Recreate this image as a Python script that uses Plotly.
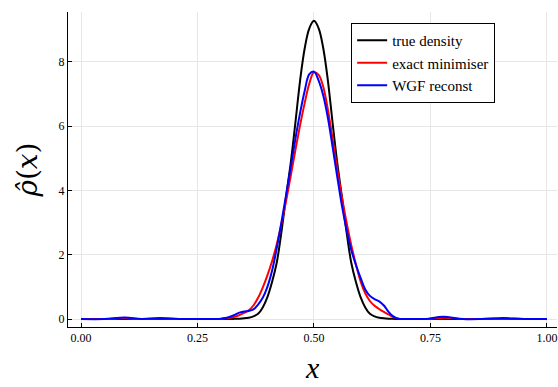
import plotly.graph_objects as go

# ---- data ----
x_true = [0.0, 0.1, 0.2, 0.30, 0.32, 0.33, 0.34, 0.35, 0.36, 0.37, 0.38, 0.39, 0.40, 0.41, 0.42, 0.43, 0.44,
          0.45, 0.46, 0.47, 0.48, 0.49, 0.50, 0.51, 0.52, 0.53, 0.54, 0.55, 0.56, 0.57, 0.58,
          0.59, 0.60, 0.61, 0.62, 0.63, 0.64, 0.65, 0.66, 0.67, 0.68, 0.70, 0.8, 0.9, 1.0]
y_true = [0.0, 0.0, 0.0, 0.0, 0.0, 0.005, 0.01, 0.02, 0.04, 0.08, 0.16, 0.36, 0.68, 1.15, 1.75, 2.7, 3.8,
          4.85, 6.1, 7.4, 8.42, 9.05, 9.28, 9.05, 8.42, 7.4, 6.1, 4.85, 3.8, 2.7, 1.75,
          1.15, 0.68, 0.36, 0.16, 0.08, 0.04, 0.02, 0.01, 0.005, 0.0, 0.0, 0.0, 0.0, 0.0]

x_exact = [0.0, 0.05, 0.094, 0.13, 0.17, 0.21, 0.25, 0.29, 0.30, 0.31, 0.32, 0.33, 0.34, 0.35, 0.36, 0.37,
           0.38, 0.39, 0.40, 0.41, 0.42, 0.43, 0.44, 0.45, 0.46, 0.47, 0.48, 0.49, 0.50, 0.51,
           0.52, 0.53, 0.54, 0.55, 0.56, 0.57, 0.58, 0.59, 0.60, 0.61, 0.62, 0.63, 0.64, 0.65,
           0.66, 0.67, 0.68, 0.69, 0.72, 0.74, 0.78, 0.82, 0.86, 0.906, 0.95, 1.0]
y_exact = [0.0, 0.0, 0.02, 0.0, 0.015, 0.0, 0.0, 0.0, 0.0, 0.02, 0.04, 0.07, 0.12, 0.19, 0.27, 0.42,
           0.66, 0.98, 1.36, 1.8, 2.32, 2.95, 3.66, 4.45, 5.25, 6.02, 6.72, 7.33, 7.68, 7.6,
           7.22, 6.5, 5.6, 4.65, 3.78, 3.0, 2.3, 1.7, 1.17, 0.8, 0.56, 0.41, 0.31, 0.22,
           0.14, 0.06, 0.02, 0.0, 0.0, 0.0, 0.04, 0.0, 0.0, 0.01, 0.0, 0.0]

x_wgf = [0.0, 0.05, 0.094, 0.13, 0.17, 0.21, 0.25, 0.28, 0.29, 0.30, 0.31, 0.32, 0.33, 0.34, 0.35, 0.36,
         0.37, 0.38, 0.39, 0.40, 0.41, 0.42, 0.43, 0.44, 0.45, 0.46, 0.47, 0.48, 0.49, 0.50,
         0.51, 0.52, 0.53, 0.54, 0.55, 0.56, 0.57, 0.58, 0.59, 0.60, 0.61, 0.62, 0.63, 0.64,
         0.65, 0.66, 0.67, 0.68, 0.69, 0.72, 0.74, 0.777, 0.82, 0.86, 0.906, 0.95, 1.0]
y_wgf = [0.0, 0.0, 0.05, 0.0, 0.03, 0.0, 0.0, 0.0, 0.0, 0.01, 0.03, 0.07, 0.13, 0.2, 0.23, 0.25,
         0.3, 0.45, 0.66, 1.0, 1.5, 2.2, 3.0, 3.85, 4.72, 5.6, 6.4, 7.1, 7.62, 7.7,
         7.42, 6.95, 6.25, 5.35, 4.42, 3.52, 2.77, 2.15, 1.68, 1.28, 0.92, 0.72, 0.62, 0.55,
         0.42, 0.22, 0.08, 0.01, 0.0, 0.0, 0.0, 0.07, 0.0, 0.0, 0.03, 0.0, 0.0]

x_ticks = [0.0, 0.25, 0.5, 0.75, 1.0]
x_ticklabels = ["0.00", "0.25", "0.50", "0.75", "1.00"]
y_ticks = [0, 2, 4, 6, 8]
y_ticklabels = ["0", "2", "4", "6", "8"]

series = [
    ("true density", x_true, y_true, "black"),
    ("exact minimiser", x_exact, y_exact, "red"),
    ("WGF reconst", x_wgf, y_wgf, "blue"),
]

FONT = "'Liberation Serif', 'DejaVu Serif', serif"
TITLE_FONT = "'DejaVu Serif', serif"

fig = go.Figure()
for name, xs, ys, col in series:
    fig.add_trace(go.Scatter(
        x=xs, y=ys, name=name, mode="lines",
        line=dict(color=col, width=2, shape="spline", smoothing=1.0),
    ))

fig.update_layout(
    width=558, height=387,
    margin=dict(l=68, r=1, t=12, b=60),
    paper_bgcolor="white", plot_bgcolor="white",
    font=dict(family=FONT, color="black"),
    showlegend=True,
    legend=dict(
        x=0.579, y=0.965, xanchor="left", yanchor="top",
        bgcolor="white", bordercolor="black", borderwidth=1,
        font=dict(family=FONT, size=15, color="black"),
        itemwidth=30, tracegroupgap=0,
    ),
    annotations=[dict(
        text="<i>x</i>", xref="paper", yref="paper", x=0.5, y=0,
        xanchor="center", yanchor="middle", yshift=-40, showarrow=False,
        font=dict(family=FONT, size=30, color="black"),
    )],
)

fig.update_xaxes(
    range=[-0.0279, 1.0215], automargin=False,
    tickvals=x_ticks, ticktext=x_ticklabels,
    ticks="inside", ticklen=4, tickcolor="black",
    showline=True, linecolor="black", linewidth=1, mirror=False,
    showgrid=True, gridcolor="#e6e6e6", gridwidth=1, zeroline=False,
    tickfont=dict(family=FONT, size=12, color="black"),
    ticklabeloverflow="allow",
)
fig.update_yaxes(
    range=[-0.249, 9.556], automargin=False,
    tickvals=y_ticks, ticktext=y_ticklabels,
    ticks="inside", ticklen=4, tickcolor="black",
    showline=True, linecolor="black", linewidth=1, mirror=False,
    showgrid=True, gridcolor="#e6e6e6", gridwidth=1, zeroline=False,
    tickfont=dict(family=FONT, size=12, color="black"),
    title=dict(text="<i>ρ\u0302</i>(<i>x</i>)", font=dict(family=TITLE_FONT, size=28, color="black"), standoff=12),
)

fig.write_html("out.html")
